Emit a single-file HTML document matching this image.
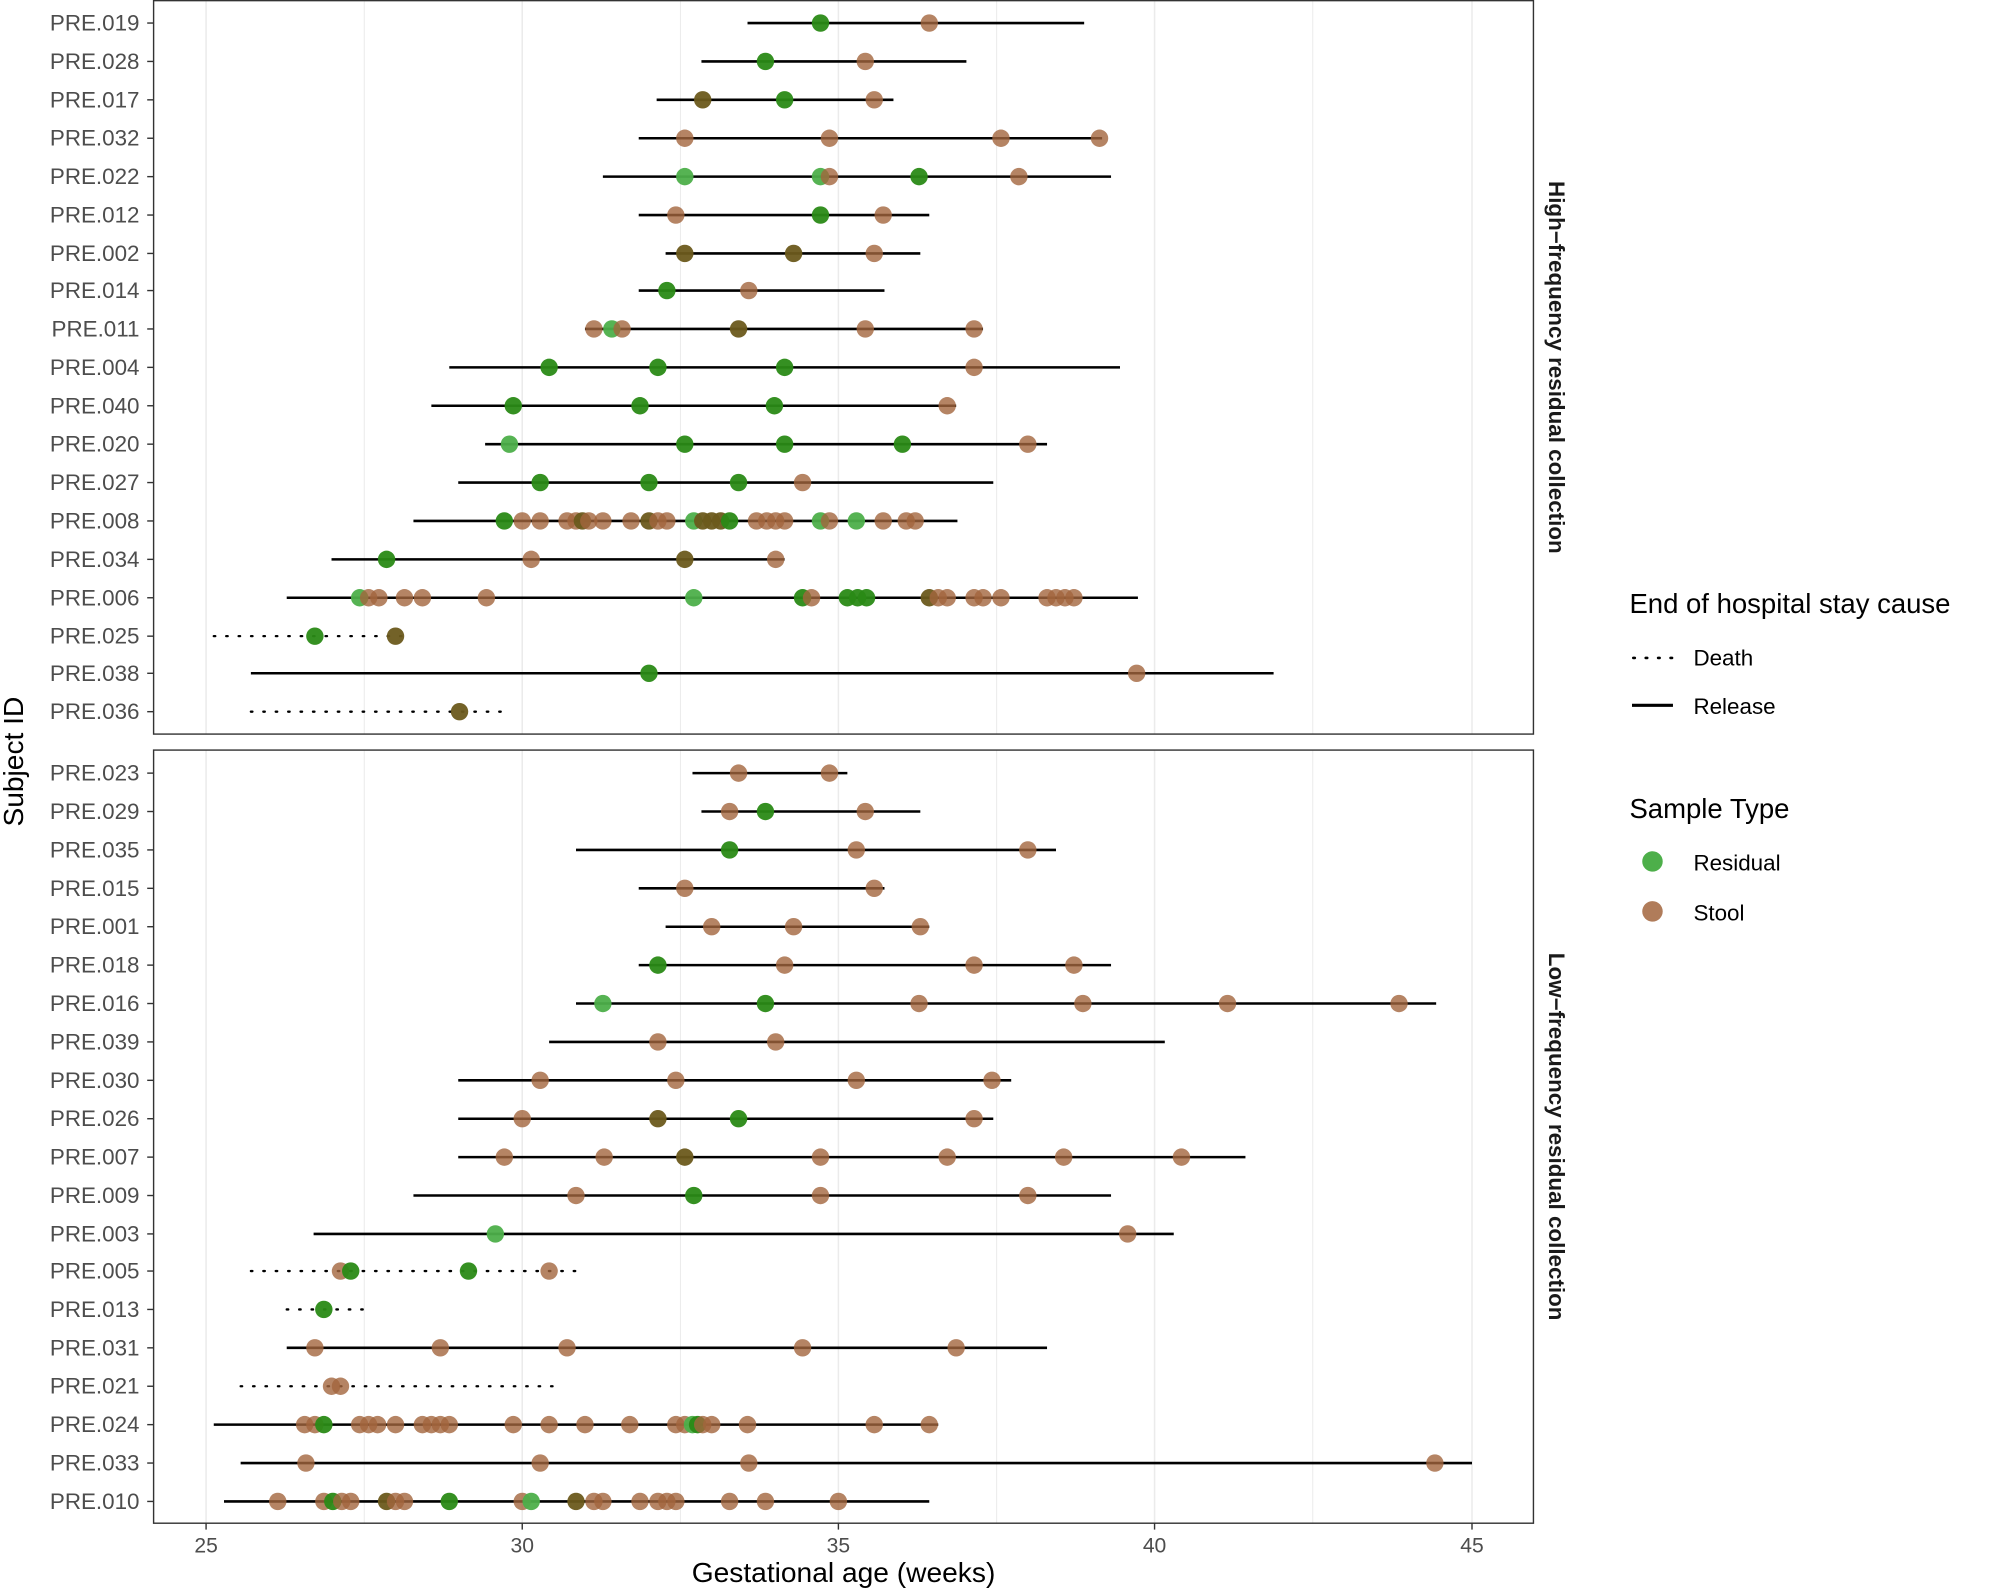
<!DOCTYPE html>
<html><head><meta charset="utf-8"><style>
html,body{margin:0;padding:0;background:#fff}
svg{display:block}
text{font-family:"Liberation Sans",Arial,sans-serif}
.yl{font-size:17.5px;fill:#4d4d4d;text-anchor:end;dominant-baseline:central}
.xl{font-size:16.5px;fill:#4d4d4d;text-anchor:middle}
</style></head><body>
<svg id="s" width="1996" height="1590" viewBox="0 0 1559.375 1242.1875" xmlns="http://www.w3.org/2000/svg">
<rect x="0" y="0" width="1560" height="1243" fill="#fff"/>
<g id="grid"></g>
<g id="data"></g>
<rect x="120" y="0.5" width="1078" height="573" fill="none" stroke="#333" stroke-width="1.1"/>
<rect x="120" y="586" width="1078" height="604" fill="none" stroke="#333" stroke-width="1.1"/>
<g id="ticks"></g>
<g>
<text class="yl" x="109" y="18">PRE.019</text><text class="yl" x="109" y="48">PRE.028</text><text class="yl" x="109" y="78">PRE.017</text><text class="yl" x="109" y="108">PRE.032</text><text class="yl" x="109" y="138">PRE.022</text><text class="yl" x="109" y="168">PRE.012</text><text class="yl" x="109" y="198">PRE.002</text><text class="yl" x="109" y="227">PRE.014</text><text class="yl" x="109" y="257">PRE.011</text><text class="yl" x="109" y="287">PRE.004</text><text class="yl" x="109" y="317">PRE.040</text><text class="yl" x="109" y="347">PRE.020</text><text class="yl" x="109" y="377">PRE.027</text><text class="yl" x="109" y="407">PRE.008</text><text class="yl" x="109" y="437">PRE.034</text><text class="yl" x="109" y="467">PRE.006</text><text class="yl" x="109" y="497">PRE.025</text><text class="yl" x="109" y="526">PRE.038</text><text class="yl" x="109" y="556">PRE.036</text>
<text class="yl" x="109" y="604">PRE.023</text><text class="yl" x="109" y="634">PRE.029</text><text class="yl" x="109" y="664">PRE.035</text><text class="yl" x="109" y="694">PRE.015</text><text class="yl" x="109" y="724">PRE.001</text><text class="yl" x="109" y="754">PRE.018</text><text class="yl" x="109" y="784">PRE.016</text><text class="yl" x="109" y="814">PRE.039</text><text class="yl" x="109" y="844">PRE.030</text><text class="yl" x="109" y="874">PRE.026</text><text class="yl" x="109" y="904">PRE.007</text><text class="yl" x="109" y="934">PRE.009</text><text class="yl" x="109" y="964">PRE.003</text><text class="yl" x="109" y="993">PRE.005</text><text class="yl" x="109" y="1023">PRE.013</text><text class="yl" x="109" y="1053">PRE.031</text><text class="yl" x="109" y="1083">PRE.021</text><text class="yl" x="109" y="1113">PRE.024</text><text class="yl" x="109" y="1143">PRE.033</text><text class="yl" x="109" y="1173">PRE.010</text>
<text class="xl" x="161" y="1213">25</text><text class="xl" x="408" y="1213">30</text><text class="xl" x="655" y="1213">35</text><text class="xl" x="902" y="1213">40</text><text class="xl" x="1150" y="1213">45</text>
<text x="659" y="1243" font-size="22" text-anchor="middle" fill="#000" dy="-7">Gestational age (weeks)</text>
<text transform="translate(18,595) rotate(-90)" font-size="22" text-anchor="middle" fill="#000">Subject ID</text>
<text transform="translate(1210,287) rotate(90)" font-size="17.5" font-weight="bold" text-anchor="middle" fill="#1a1a1a">High−frequency residual collection</text>
<text transform="translate(1210,888) rotate(90)" font-size="17.5" font-weight="bold" text-anchor="middle" fill="#1a1a1a">Low−frequency residual collection</text>
<text x="1273" y="479" font-size="21.5" fill="#000">End of hospital stay cause</text>
<line x1="1276" y1="514" x2="1307" y2="514" stroke="#000" stroke-width="2" stroke-dasharray="1.2,8.5" stroke-linecap="round"/>
<text x="1323" y="520" font-size="17.5" fill="#000">Death</text>
<line x1="1275" y1="551" x2="1307" y2="551" stroke="#000" stroke-width="2.4"/>
<text x="1323" y="558" font-size="17.5" fill="#000">Release</text>
<text x="1273" y="639" font-size="21.5" fill="#000">Sample Type</text>
<circle cx="1291" cy="673" r="8" fill="#4daf4a"/>
<text x="1323" y="680" font-size="17.5" fill="#000">Residual</text>
<circle cx="1291" cy="712" r="8" fill="#b07c5a"/>
<text x="1323" y="719" font-size="17.5" fill="#000">Stool</text>
</g>
</svg>
<script>
var NS="http://www.w3.org/2000/svg";
function el(p,t,a){var e=document.createElementNS(NS,t);for(var k in a)e.setAttribute(k,a[k]);p.appendChild(e);return e;}
var grid=document.getElementById('grid'),data=document.getElementById('data'),tk=document.getElementById('ticks');
[161,284.6,408,531.6,655,778.6,902,1025.6,1150].forEach(function(x,i){
 [[0,573],[586,1190]].forEach(function(r){el(grid,'line',{x1:x,x2:x,y1:r[0],y2:r[1],stroke:'#ebebeb','stroke-width':i%2?0.8:1.2});});
});
[161,408,655,902,1150].forEach(function(x){el(tk,'line',{x1:x,x2:x,y1:1190,y2:1195,stroke:'#333','stroke-width':1.1});});
var rows=[
[18,584,847,0,"G641 b726"],[48,548,755,0,"G598 b676"],[78,513,698,0,"o549 G613 b683"],
[108,499,861,0,"b535 b648 b782 b859"],[138,471,868,0,"g535 g641 b648 G718 b796"],
[168,499,726,0,"b528 G641 b690"],[198,520,719,0,"o535 o620 b683"],[227,499,691,0,"G521 b585"],
[257,457,768,0,"b464 g478 b486 o577 b676 b761"],[287,351,875,0,"G429 G514 G613 b761"],
[317,337,747,0,"G401 G500 G605 b740"],[347,379,818,0,"g398 G535 G613 G705 b803"],
[377,358,776,0,"G422 G507 G577 b627"],
[407,323,748,0,"G394 b408 b422 b443 b450 o455 b460 b471 b493 o507 b514 b521 g542 o549 o556 o563 G570 b591 b599 b606 b613 g641 b648 g669 b690 b708 b715"],
[437,259,613,0,"G302 b415 o535 b606"],
[467,224,889,0,"g281 b288 b296 b316 b330 b380 g542 G627 b634 G662 G670 G677 o726 b733 b740 b761 b768 b782 b818 b825 b832 b839"],
[497,167,321,1,"G246 o309"],[526,196,995,0,"G507 b888"],[556,196,398,1,"o359"],
[604,541,662,0,"b577 b648"],[634,548,719,0,"b570 G598 b676"],[664,450,825,0,"G570 b669 b803"],
[694,499,691,0,"b535 b683"],[724,520,726,0,"b556 b620 b719"],[754,499,868,0,"G514 b613 b761 b839"],
[784,450,1122,0,"g471 G598 b718 b846 b959 b1093"],[814,429,910,0,"b514 b606"],
[844,358,790,0,"b422 b528 b669 b775"],[874,358,776,0,"b408 o514 G577 b761"],
[904,358,973,0,"b394 b472 o535 b641 b740 b831 b923"],[934,323,868,0,"b450 G542 b641 b803"],
[964,245,917,0,"g387 b881"],[993,196,453,1,"b266 G274 G366 b429"],[1023,224,284,1,"G253"],
[1053,224,818,0,"b246 b344 b443 b627 b747"],[1083,188,437,1,"b259 b266"],
[1113,167,733,0,"b238 b246 G253 b281 b288 b295 b309 b330 b337 b344 b351 b401 b429 b457 b492 b528 b535 g541 G545 b549 b556 b584 b683 b726"],
[1143,188,1150,0,"b239 b422 b585 b1121"],
[1173,175,726,0,"b217 b253 G260 b267 b274 o302 b309 b316 G351 b408 g415 o450 b464 b471 b500 b514 b521 b528 b570 b598 b655"]
];
var col={g:['#4daf4a',0.95],G:['#2a8a16',0.95],b:['#a3653d',0.8],o:['#6b5a1c',0.95]};
rows.forEach(function(r){
 el(tk,'line',{x1:115,x2:120,y1:r[0],y2:r[0],stroke:'#333','stroke-width':1.1});
 var a={x1:r[1],x2:r[2],y1:r[0],y2:r[0],stroke:'#000'};
 if(r[3]){a['stroke-width']=1.8;a['stroke-dasharray']='1.2,8.5';a['stroke-linecap']='round';}else a['stroke-width']=2;
 el(data,'line',a);
 r[4].split(' ').forEach(function(p){var c=col[p[0]];el(data,'circle',{cx:+p.slice(1),cy:r[0],r:6.8,fill:c[0],'fill-opacity':c[1]});});
});
</script>
</body></html>
